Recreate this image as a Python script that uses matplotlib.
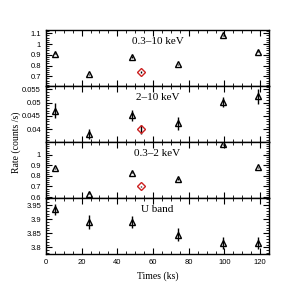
import numpy as np
import matplotlib.pyplot as plt
from matplotlib.ticker import MultipleLocator

# time of each observation (ks)
t = [5, 24, 48, 74, 99, 119]
t_red = 53

# 0.3-10 keV
r_full = [0.91, 0.72, 0.88, 0.81, 1.08, 0.93]
e_full = [0.006, 0.006, 0.006, 0.006, 0.006, 0.006]
red_full, red_full_err = 0.74, 0.006

# 2-10 keV
r_hard = [0.0470, 0.0382, 0.0452, 0.0423, 0.0502, 0.0523]
e_hard = [0.0028, 0.0018, 0.0020, 0.0024, 0.0020, 0.0028]
red_hard, red_hard_err = 0.0400, 0.0016

# 0.3-2 keV
r_soft = [0.87, 0.63, 0.83, 0.77, 1.10, 0.88]
e_soft = [0.006, 0.006, 0.006, 0.006, 0.006, 0.006]
red_soft, red_soft_err = 0.70, 0.006

# U band
r_u = [3.935, 3.89, 3.89, 3.845, 3.815, 3.815]
e_u = [0.020, 0.025, 0.022, 0.022, 0.020, 0.020]

labels = ["0.3\u201310 keV", "2\u201310 keV", "0.3\u20132 keV", "U band"]
ylims = [(0.61, 1.13), (0.0352, 0.0562), (0.59, 1.12), (3.776, 3.975)]
minors = [0.02, 0.001, 0.02, 0.01]
yticks = [[0.7, 0.8, 0.9, 1.0, 1.1], [0.04, 0.045, 0.05, 0.055],
          [0.6, 0.7, 0.8, 0.9, 1.0], [3.8, 3.85, 3.9, 3.95]]
yticklabels = [["0.7", "0.8", "0.9", "1", "1.1"], ["0.04", "0.045", "0.05", "0.055"],
               ["0.6", "0.7", "0.8", "0.9", "1"], ["3.8", "3.85", "3.9", "3.95"]]

serif = "Liberation Serif"
sans = "Liberation Sans"

fig, axes = plt.subplots(4, 1, sharex=True, figsize=(3, 3), dpi=100)
plt.subplots_adjust(left=0.153, right=0.897, top=0.9, bottom=0.153, hspace=0)

rates = [r_full, r_hard, r_soft, r_u]
errs = [e_full, e_hard, e_soft, e_u]
reds = [(red_full, red_full_err), (red_hard, red_hard_err), (red_soft, red_soft_err), None]

for i, ax in enumerate(axes):
    ax.errorbar(t, rates[i], yerr=errs[i], fmt="^", mfc="none", mec="black",
                ecolor="black", ms=4.6, mew=1.0, elinewidth=1.0, capsize=0)
    if reds[i] is not None:
        ax.errorbar([t_red], [reds[i][0]], yerr=[reds[i][1]], fmt="D", mfc="none",
                    mec="#cc2222", ecolor="black", ms=4.3, mew=1.0, elinewidth=1.0, capsize=0)
    ax.set_ylim(*ylims[i])
    ax.set_xlim(0, 125)
    ax.set_yticks(yticks[i])
    ax.set_yticklabels(yticklabels[i], family=sans)
    ax.yaxis.set_minor_locator(MultipleLocator(minors[i]))
    ax.xaxis.set_major_locator(MultipleLocator(20))
    ax.xaxis.set_minor_locator(MultipleLocator(5))
    ax.tick_params(which="both", direction="in", top=True, right=True, labelsize=5.5)
    ax.tick_params(which="major", length=4, width=0.8)
    ax.tick_params(which="minor", length=2, width=0.6)
    for s in ax.spines.values():
        s.set_linewidth(1.0)
    ax.text(0.5, 0.79, labels[i], transform=ax.transAxes, ha="center", va="center",
            fontsize=8, family=serif)

for lab in axes[3].get_xticklabels():
    lab.set_family(sans)

axes[3].set_xlabel("Times (ks)", fontsize=7, family=serif)
fig.text(0.055, 0.527, "Rate (counts /s)", rotation=90, ha="center", va="center",
         fontsize=7, family=serif)

plt.savefig("out.png", dpi=100)
